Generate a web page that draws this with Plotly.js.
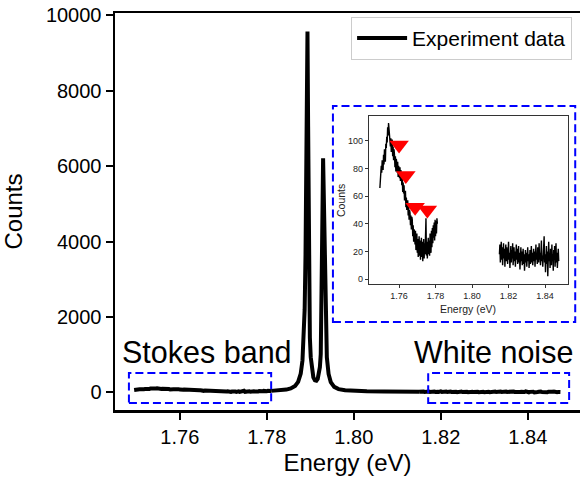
<!DOCTYPE html>
<html>
<head>
<meta charset="utf-8">
<script src="https://cdn.plot.ly/plotly-3.0.1.min.js"></script>
<style>html,body{margin:0;padding:0;background:#fff;overflow:hidden;}</style>
</head>
<body>
<div id="chart" style="width:580px;height:481px;"></div>
<script>
// ---- data ----
// Stokes band window: energy starts at 1.7495 eV, sampled every 0.00025 eV
const stokesStart = 1.7495;
const stokesStep = 0.00025;
const stokesCounts = [66,75,70,82,77,86,84,79,90,83,94,88,85,98,95,103,99,110,104,113,
  106,109,100,96,102,92,99,101,89,96,86,94,90,81,89,78,87,84,77,85,
  74,82,80,73,81,71,79,76,68,74,63,70,62,68,57,61,64,52,59,50,
  56,57,46,53,43,50,48,39,46,36,45,43,31,39,27,36,34,25,35,21,
  31,33,19,29,16,27,31,17,28,14,25,30,16,27,13,24,29,15,26,18,
  31,44,17,27,15,26,30,18,28,17,33,25,19,35,23,37,26,39,30,41,
  28,43,31,42,33,44,40];

// Laser line region between the two windows (non-uniform sampling)
const peakEnergy = [1.7810,1.7830,1.7845,1.7855,1.7865,1.7872,1.7878,1.7882,1.7885,1.7887,
  1.7889,1.7890,1.7891,1.7892,1.78935,1.7895,1.7896,1.7897,1.7899,1.7901,
  1.7904,1.7907,1.79105,1.7914,1.7917,1.7920,1.7922,1.7924,1.7926,1.7927,
  1.7928,1.79294,1.7931,1.7932,1.7933,1.7935,1.7938,1.7942,1.7947,1.7955,
  1.7965,1.7980,1.8000,1.8030,1.8070,1.8110,1.8150];
const peakCounts = [42,55,76,107,173,281,501,850,1429,2194,
  3653,4832,6387,8135,9570,7050,4810,2460,1455,935,
  565,400,322,313,358,490,670,1015,2255,3310,
  4815,6210,5198,4061,3076,1800,932,490,276,148,
  89,57,39,29,23,19,18];

// White noise window: energy starts at 1.8150 eV, sampled every 0.00025 eV
const noiseStart = 1.8150;
const noiseStep = 0.00025;
const noiseCounts = [18,25,12,21,27,14,23,10,19,26,
  15,22,9,17,25,13,23,17,11,22,
  27,14,19,8,18,24,12,21,15,26,
  10,17,23,13,20,9,16,25,14,22,
  11,18,24,12,19,7,15,23,13,20,
  10,17,22,11,18,6,14,21,12,19,
  9,16,23,13,18,8,15,21,11,17,
  24,12,19,10,16,22,13,20,9,15,
  25,14,18,11,23,16,12,26,14,19,
  10,22,28,13,17,9,21,15,31,12,
  18,5,16,24,11,20,2,14,27,13,
  19,8,22,15,10,25,13,18,6,21,
  14,24,9,17,26,12,19,8,15,22,13];

// Red markers in the inset
const markerEnergy = [1.7600, 1.7637, 1.7688, 1.7755];
const markerCounts = [97, 75, 52, 50];

// Tick labels
const xTicks = [1.76, 1.78, 1.80, 1.82, 1.84];
const xTickText = ['1.76', '1.78', '1.80', '1.82', '1.84'];
const mainYTicks = [0, 2000, 4000, 6000, 8000, 10000];
const mainYTickText = ['0', '2000', '4000', '6000', '8000', '10000'];
const insetYTicks = [0, 20, 40, 60, 80, 100];
const insetYTickText = ['0', '20', '40', '60', '80', '100'];

const FONT = 'Liberation Sans, Arial, Helvetica, sans-serif';
const mainLine = {color: '#000000', width: 4};
const insetLine = {color: '#000000', width: 1.4};

const traces = [
  {type: 'scatter', mode: 'lines', x0: stokesStart, dx: stokesStep, y: stokesCounts,
   line: mainLine, name: 'Experiment data', legendgroup: 'exp', showlegend: true, xaxis: 'x', yaxis: 'y'},
  {type: 'scatter', mode: 'lines', x: peakEnergy, y: peakCounts,
   line: mainLine, name: 'Experiment data', legendgroup: 'exp', showlegend: false, xaxis: 'x', yaxis: 'y'},
  {type: 'scatter', mode: 'lines', x0: noiseStart, dx: noiseStep, y: noiseCounts,
   line: mainLine, name: 'Experiment data', legendgroup: 'exp', showlegend: false, xaxis: 'x', yaxis: 'y'},
  {type: 'scatter', mode: 'lines', x0: stokesStart, dx: stokesStep, y: stokesCounts,
   line: insetLine, showlegend: false, xaxis: 'x2', yaxis: 'y2'},
  {type: 'scatter', mode: 'lines', x0: noiseStart, dx: noiseStep, y: noiseCounts,
   line: insetLine, showlegend: false, xaxis: 'x2', yaxis: 'y2'},
  {type: 'scatter', mode: 'markers', x: markerEnergy, y: markerCounts,
   marker: {symbol: 'triangle-down', size: 17, color: '#ff0000', line: {width: 0}},
   showlegend: false, xaxis: 'x2', yaxis: 'y2'}
];

const blueDash = {color: '#0000ff', width: 2, dash: '8px,4px'};

const layout = {
  width: 580, height: 481,
  margin: {l: 115, r: 0, t: 13, b: 71},
  paper_bgcolor: '#ffffff', plot_bgcolor: '#ffffff',
  font: {family: FONT, color: '#000000'},
  showlegend: true,
  legend: {x: 0.983, y: 0.99, xanchor: 'right', yanchor: 'top',
    bgcolor: '#ffffff', bordercolor: '#cccccc', borderwidth: 1, itemwidth: 50,
    font: {size: 21, family: FONT, color: '#000000'}},
  xaxis: {
    range: [1.7451, 1.852], tickvals: xTicks, ticktext: xTickText,
    showline: true, linecolor: '#000000', linewidth: 2.5, mirror: true,
    ticks: 'outside', ticklen: 7, tickwidth: 2, tickcolor: '#000000',
    showgrid: false, zeroline: false,
    tickfont: {size: 20, family: FONT, color: '#000000'},
    title: {text: 'Energy (eV)', font: {size: 24, family: FONT, color: '#000000'}, standoff: 8}
  },
  yaxis: {
    range: [-465, 10060], tickvals: mainYTicks, ticktext: mainYTickText,
    showline: true, linecolor: '#000000', linewidth: 2.5, mirror: false,
    ticks: 'outside', ticklen: 7, tickwidth: 2, tickcolor: '#000000',
    showgrid: false, zeroline: false,
    tickfont: {size: 20, family: FONT, color: '#000000'},
    title: {text: 'Counts', font: {size: 24, family: FONT, color: '#000000'}, standoff: 22}
  },
  xaxis2: {
    domain: [0.5469, 0.9735], anchor: 'y2',
    range: [1.7437, 1.8524], tickvals: xTicks, ticktext: xTickText,
    showline: true, linecolor: '#333333', linewidth: 1, mirror: true,
    ticks: 'outside', ticklen: 3.5, tickwidth: 1, tickcolor: '#333333',
    showgrid: false, zeroline: false,
    tickfont: {size: 9, family: FONT, color: '#222222'}
  },
  yaxis2: {
    domain: [0.3186, 0.7413], anchor: 'x2',
    range: [-3.2, 118.3], tickvals: insetYTicks, ticktext: insetYTickText,
    showline: true, linecolor: '#333333', linewidth: 1, mirror: true,
    ticks: 'outside', ticklen: 3.5, tickwidth: 1, tickcolor: '#333333',
    showgrid: false, zeroline: false,
    tickfont: {size: 9, family: FONT, color: '#222222'}
  },
  shapes: [
    {type: 'rect', xref: 'x', yref: 'y', x0: 1.7483, x1: 1.7810, y0: -279, y1: 516, line: blueDash},
    {type: 'rect', xref: 'x', yref: 'y', x0: 1.8171, x1: 1.8495, y0: -279, y1: 516, line: blueDash},
    {type: 'rect', xref: 'x', yref: 'y', x0: 1.7952, x1: 1.8509, y0: 1868, y1: 7594, line: blueDash}
  ],
  annotations: [
    {xref: 'x', yref: 'y', x: 1.7663, y: 1073, text: 'Stokes band', showarrow: false,
     xanchor: 'center', yanchor: 'middle', font: {size: 30.5, family: FONT, color: '#000000'}},
    {xref: 'x', yref: 'y', x: 1.8320, y: 1073, text: 'White noise', showarrow: false,
     xanchor: 'center', yanchor: 'middle', font: {size: 30.5, family: FONT, color: '#000000'}},
    {xref: 'paper', yref: 'paper', x: 0.759, y: 0.2545, text: 'Energy (eV)', showarrow: false,
     xanchor: 'center', yanchor: 'middle', font: {size: 10.5, family: FONT, color: '#222222'}},
    {xref: 'paper', yref: 'paper', x: 0.486, y: 0.529, text: 'Counts', showarrow: false, textangle: -90,
     xanchor: 'center', yanchor: 'middle', font: {size: 10.5, family: FONT, color: '#222222'}}
  ]
};

Plotly.newPlot('chart', traces, layout, {displayModeBar: false, staticPlot: true});
</script>
</body>
</html>
